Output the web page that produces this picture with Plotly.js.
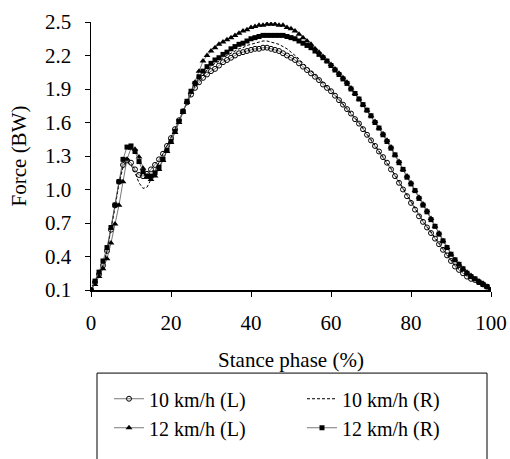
<!DOCTYPE html>
<html>
<head>
<meta charset="utf-8">
<script src="https://cdn.plot.ly/plotly-3.0.1.min.js"></script>
<style>html,body{margin:0;padding:0;background:#fff;}#chart{width:510px;height:459px;}</style>
</head>
<body>
<div id="chart"></div>
<script>
// Stance phase (%) 0..100
var stancePhase = [];
for (var i = 0; i <= 100; i++) stancePhase.push(i);

var seriesNames = ["10 km/h (L)", "10 km/h (R)", "12 km/h (L)", "12 km/h (R)"];

var force10L = [0.10,0.17,0.24,0.32,0.45,0.64,0.86,1.07,1.22,1.26,
  1.24,1.18,1.13,1.12,1.14,1.18,1.22,1.27,1.32,1.39,
  1.46,1.54,1.62,1.70,1.78,1.85,1.91,1.96,2.00,2.03,
  2.06,2.08,2.11,2.14,2.16,2.18,2.20,2.22,2.23,2.24,
  2.25,2.26,2.26,2.27,2.27,2.26,2.25,2.24,2.22,2.20,
  2.18,2.16,2.13,2.10,2.07,2.04,2.01,1.98,1.94,1.91,
  1.88,1.84,1.80,1.76,1.72,1.68,1.63,1.59,1.54,1.49,
  1.44,1.39,1.34,1.29,1.24,1.18,1.12,1.06,1.00,0.94,
  0.88,0.82,0.76,0.71,0.66,0.61,0.56,0.51,0.46,0.41,
  0.36,0.31,0.28,0.25,0.22,0.20,0.19,0.17,0.15,0.13,
  0.10];

var force10R = [0.10,0.17,0.24,0.32,0.45,0.63,0.84,1.05,1.20,1.25,
  1.22,1.15,1.06,1.01,1.02,1.09,1.17,1.25,1.32,1.39,
  1.46,1.54,1.62,1.70,1.78,1.86,1.93,1.98,2.03,2.07,
  2.10,2.13,2.15,2.18,2.20,2.22,2.24,2.26,2.27,2.29,
  2.30,2.31,2.32,2.33,2.33,2.32,2.31,2.30,2.28,2.26,
  2.23,2.20,2.17,2.13,2.10,2.06,2.03,1.99,1.96,1.92,
  1.89,1.85,1.81,1.77,1.73,1.69,1.64,1.60,1.55,1.50,
  1.45,1.40,1.35,1.30,1.25,1.19,1.13,1.07,1.01,0.95,
  0.89,0.83,0.77,0.72,0.67,0.62,0.57,0.52,0.47,0.42,
  0.37,0.32,0.29,0.26,0.23,0.21,0.19,0.17,0.15,0.13,
  0.10];

var force12L = [0.10,0.15,0.22,0.29,0.38,0.52,0.69,0.86,1.07,1.27,
  1.37,1.36,1.29,1.19,1.11,1.09,1.12,1.18,1.26,1.34,
  1.42,1.51,1.60,1.69,1.78,1.87,1.96,2.06,2.15,2.20,
  2.24,2.27,2.30,2.32,2.34,2.36,2.38,2.40,2.42,2.43,
  2.45,2.46,2.47,2.47,2.48,2.48,2.48,2.47,2.47,2.45,
  2.44,2.42,2.39,2.36,2.33,2.30,2.26,2.23,2.19,2.15,
  2.12,2.08,2.04,2.00,1.96,1.91,1.86,1.81,1.76,1.71,
  1.66,1.61,1.55,1.50,1.44,1.38,1.31,1.25,1.18,1.12,
  1.06,0.99,0.93,0.87,0.81,0.74,0.67,0.61,0.54,0.48,
  0.42,0.37,0.33,0.29,0.26,0.23,0.20,0.18,0.16,0.13,
  0.10];

var force12R = [0.10,0.18,0.26,0.36,0.48,0.66,0.86,1.07,1.27,1.38,
  1.39,1.34,1.25,1.16,1.12,1.12,1.15,1.20,1.27,1.35,
  1.43,1.52,1.61,1.70,1.79,1.88,1.95,2.01,2.06,2.10,
  2.13,2.16,2.18,2.21,2.23,2.26,2.28,2.30,2.31,2.33,
  2.35,2.36,2.37,2.38,2.38,2.38,2.38,2.38,2.38,2.37,
  2.36,2.35,2.33,2.31,2.29,2.27,2.24,2.21,2.18,2.15,
  2.11,2.07,2.03,1.99,1.95,1.90,1.86,1.81,1.76,1.71,
  1.66,1.60,1.55,1.49,1.43,1.37,1.31,1.24,1.18,1.11,
  1.05,0.99,0.92,0.86,0.80,0.73,0.67,0.60,0.54,0.48,
  0.42,0.37,0.33,0.29,0.25,0.22,0.20,0.17,0.15,0.13,
  0.10];

var xTickVals = [0, 20, 40, 60, 80, 100];
var yTickVals = [0.1, 0.4, 0.7, 1.0, 1.3, 1.6, 1.9, 2.2, 2.5];

var FONT = "Liberation Serif, Times New Roman, serif";
var lineCol = "#555";

var traces = [
  {x: stancePhase, y: force10L, name: seriesNames[0], type: "scatter", mode: "lines+markers",
   line: {color: lineCol, width: 0.8},
   marker: {symbol: "circle-open", size: 5, color: "#000", line: {width: 1, color: "#000"}}},
  {x: stancePhase, y: force10R, name: seriesNames[1], type: "scatter", mode: "lines",
   line: {color: "#000", width: 1, dash: "3px,2px"}},
  {x: stancePhase, y: force12L, name: seriesNames[2], type: "scatter", mode: "lines+markers",
   line: {color: lineCol, width: 0.8},
   marker: {symbol: "triangle-up", size: 6, color: "#000"}},
  {x: stancePhase, y: force12R, name: seriesNames[3], type: "scatter", mode: "lines+markers",
   line: {color: lineCol, width: 0.8},
   marker: {symbol: "square", size: 5, color: "#000"}}
];

var layout = {
  width: 510, height: 459,
  margin: {l: 91, r: 19, t: 22, b: 167},
  paper_bgcolor: "#fff", plot_bgcolor: "#fff",
  font: {family: FONT, size: 21, color: "#000"},
  showlegend: true,
  legend: {orientation: "h", x: 0.045, xanchor: "left", y: -0.333, yanchor: "top",
    entrywidth: 148, entrywidthmode: "pixels", bgcolor: "rgba(0,0,0,0)",
    font: {family: FONT, size: 20, color: "#000"}, traceorder: "normal"},
  xaxis: {range: [0, 100], tickvals: xTickVals, ticktext: xTickVals.map(String),
    showgrid: false, zeroline: false, showline: true, linecolor: "#000", linewidth: 1.5,
    ticks: "outside", ticklen: 5, tickwidth: 1, tickcolor: "#000", ticklabelstandoff: 8,
    tickfont: {family: FONT, size: 21}, fixedrange: true,
    title: {text: "Stance phase (%)", font: {family: FONT, size: 21}, standoff: 18}},
  yaxis: {range: [0.1, 2.5], tickvals: yTickVals, ticktext: yTickVals.map(function(v){return v.toFixed(1);}),
    showgrid: false, zeroline: false, showline: true, linecolor: "#000", linewidth: 1.5,
    ticks: "outside", ticklen: 5, tickwidth: 1, tickcolor: "#000", ticklabelstandoff: 9,
    tickfont: {family: FONT, size: 21}, fixedrange: true,
    title: {text: "Force (BW)", font: {family: FONT, size: 21}, standoff: 12}},
  shapes: [{type: "rect", xref: "paper", yref: "paper", x0: 0.015, x1: 0.99, y0: -0.31, y1: -0.70,
    line: {color: "#000", width: 1}, fillcolor: "rgba(0,0,0,0)", layer: "above"}]
};

Plotly.newPlot("chart", traces, layout, {displayModeBar: false, staticPlot: true});
</script>
</body>
</html>
